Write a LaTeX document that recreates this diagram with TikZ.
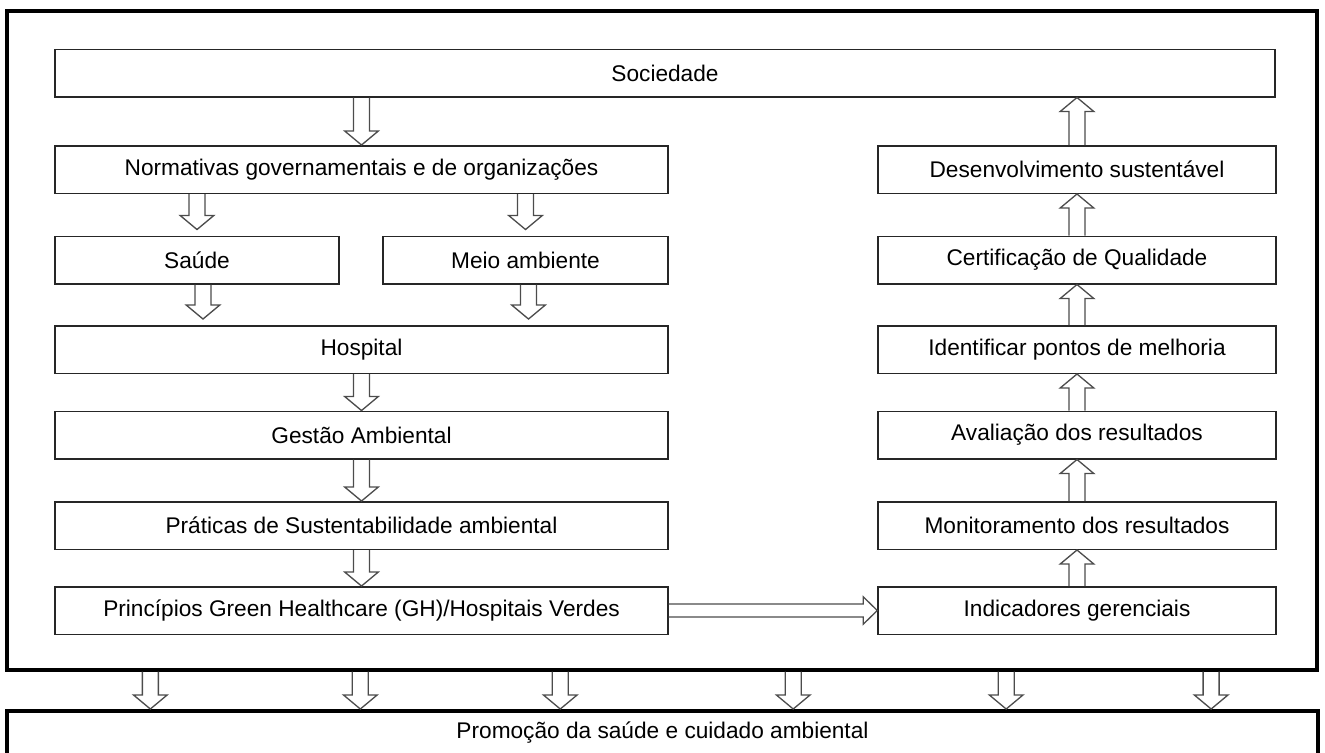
\documentclass[tikz,border=0pt]{standalone}
\usepackage{fontspec}
\setmainfont{Liberation Sans}
\usetikzlibrary{calc}

% hollow block arrow from one point to another, [half shaft width]
\newcommand{\hollowarrow}[3][0.16cm]{%
  \path (#2) coordinate (ha-s) (#3) coordinate (ha-t);
  \pgfmathsetlengthmacro{\hahead}{2.1*#1}
  \path ($(ha-t)!0.28cm!(ha-s)$) coordinate (ha-b);
  \draw[arrowline] ($(ha-s)!#1!90:(ha-t)$) -- ($(ha-b)!#1!90:(ha-t)$)
    -- ($(ha-b)!\hahead!90:(ha-t)$) -- (ha-t) -- ($(ha-b)!\hahead!-90:(ha-t)$)
    -- ($(ha-b)!#1!-90:(ha-t)$) -- ($(ha-s)!#1!-90:(ha-t)$);
}

\begin{document}
\begin{tikzpicture}[x=0.02cm,y=-0.02cm,
  box/.style={draw=black!85,line width=0.85pt,minimum height=0.95cm,inner sep=0pt,
    font=\fontsize{12.9}{15}\selectfont},
  leftbox/.style={box,minimum width=12.26cm},
  rightbox/.style={box,minimum width=7.96cm},
  outer/.style={draw=black,line width=2pt,inner sep=0pt},
  arrowline/.style={draw=black!70,line width=0.75pt,line join=miter}]
  \useasboundingbox (0,0) rectangle (1325,752);
  \clip (0,0) rectangle (1325,752);

  \node[outer,minimum width=26.2cm,minimum height=13.18cm] (frame) at (662,340.5) {};
  \node[box,minimum width=24.4cm] (soc) at (665,73) {Sociedade};

  % left column
  \node[leftbox] (norm) at (361.5,169.5) {Normativas governamentais e de organizações};
  \node[box,minimum width=5.68cm] (saude) at (197,260) {Saúde};
  \node[box,minimum width=5.7cm] (meio) at (525.5,260) {Meio ambiente};
  \node[leftbox] (hosp) at (361.5,349.5) {Hospital};
  \node[leftbox] (gestao) at (361.5,435) {Gestão Ambiental};
  \node[leftbox] (pratic) at (361.5,525.5) {Práticas de Sustentabilidade ambiental};
  \node[leftbox] (princ) at (361.5,610.5) {Princípios Green Healthcare (GH)/Hospitais Verdes};

  % right column
  \node[rightbox] (desenv) at (1077,169.5) {Desenvolvimento sustentável};
  \node[rightbox] (cert) at (1077,260) {Certificação de Qualidade};
  \node[rightbox] (ident) at (1077,349.5) {Identificar pontos de melhoria};
  \node[rightbox] (aval) at (1077,435) {Avaliação dos resultados};
  \node[rightbox] (monit) at (1077,525.5) {Monitoramento dos resultados};
  \node[rightbox] (indic) at (1077,610.5) {Indicadores gerenciais};

  \node[outer,font=\fontsize{12.9}{15}\selectfont,anchor=north,minimum width=26.22cm,
    text height=0.36cm,text depth=1cm,inner ysep=0.2cm] (promo) at (662.5,709)
    {Promoção da saúde e cuidado ambiental};

  % arrows
  \hollowarrow{soc.south -| norm.north}{norm.north}
  \hollowarrow{norm.south -| saude.north}{[yshift=0.12cm]saude.north}
  \hollowarrow{norm.south -| meio.north}{[yshift=0.12cm]meio.north}
  \hollowarrow{[xshift=0.12cm]saude.south}{$(hosp.north -| saude.south)+(0.12cm,0.12cm)$}
  \hollowarrow{[xshift=0.06cm]meio.south}{$(hosp.north -| meio.south)+(0.06cm,0.12cm)$}
  \foreach \a/\b in {hosp/gestao,gestao/pratic,pratic/princ}
    \hollowarrow{\a.south}{\b.north};
  \hollowarrow[0.13cm]{princ.east}{indic.west}
  \foreach \a/\b in {indic/monit,monit/aval,aval/ident,ident/cert,cert/desenv}
    \hollowarrow{\a.north}{\b.south};
  \hollowarrow{desenv.north}{soc.south -| desenv.north}
  \foreach \dx in {2.9,7.1,11.1,15.76,20.02,24.12}
    \hollowarrow{[xshift=\dx cm]frame.south west}{[xshift=\dx cm]promo.north west};
\end{tikzpicture}
\end{document}
